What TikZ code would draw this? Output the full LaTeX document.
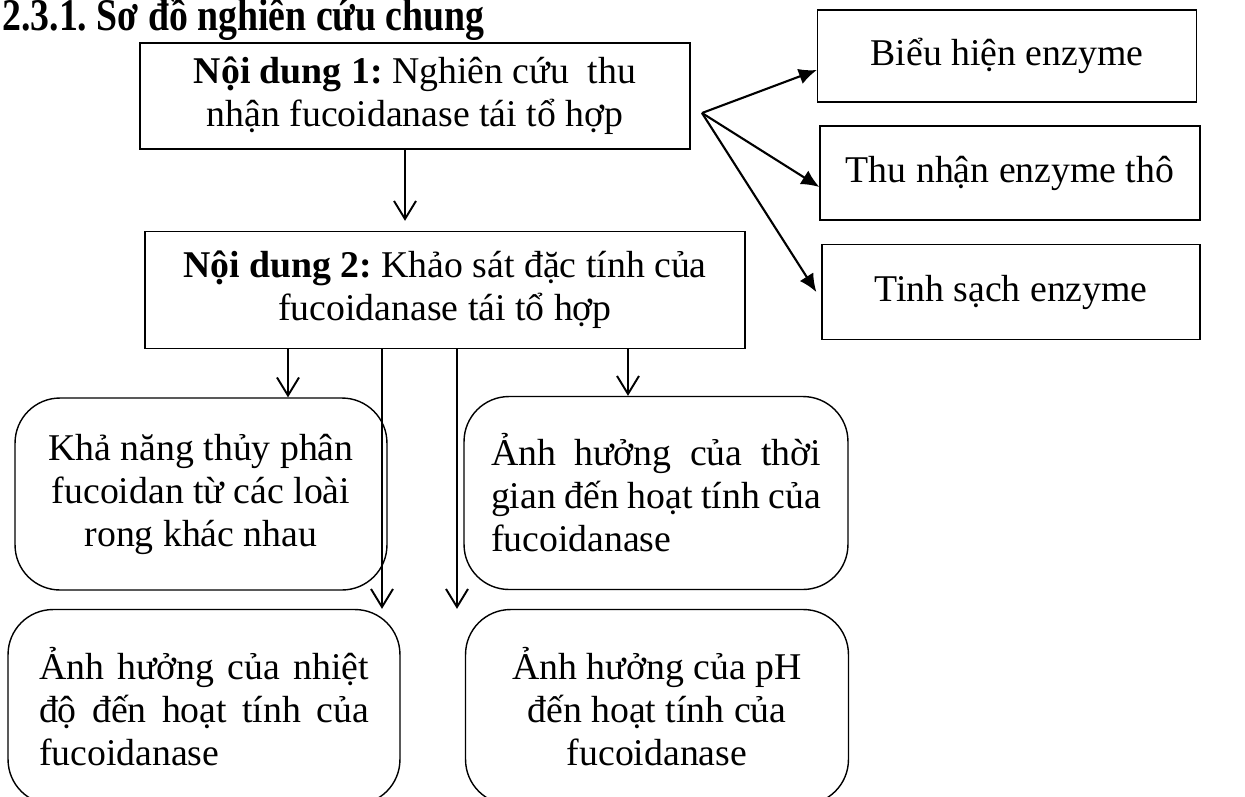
\documentclass[tikz,border=0pt]{standalone}
\usepackage{fontspec}
\setmainfont{Liberation Serif}
\usetikzlibrary{arrows.meta}

% one justified line of a box
\newcommand{\fitline}[1]{\makebox[6.6cm][s]{#1}}

\begin{document}
\frenchspacing
\begin{tikzpicture}[x=0.02cm, y=-0.02cm,
  font=\fontsize{21.5}{24.5}\selectfont,
  sqbox/.style={draw, line width=0.8pt, align=center, inner sep=0pt},
  rbox/.style={draw, line width=0.8pt, rounded corners=0.9cm, align=center, inner sep=0pt},
  downarr/.style={line width=1.1pt, -{Straight Barb[length=0.36cm, width=0.44cm, line width=1.1pt]}},
  fanarr/.style={line width=1.2pt, -{Latex[length=0.36cm, width=0.32cm]}}]

% Page frame (the picture is cut at its edges)
\useasboundingbox (0,0) rectangle (1245,796);
\clip (0,0) rectangle (1245,796);

% Heading
\node[anchor=base west, inner sep=0pt, font=\fontsize{21.5}{24.5}\selectfont\bfseries] (title) at (2,30) {\scalebox{1}[1.2]{2.3.1. Sơ đồ nghiên cứu chung}};

% Main contents
\node[sqbox, minimum width=11cm, minimum height=2.12cm] (nd1) at (415,96) {\textbf{Nội dung 1:} Nghiên cứu\ \ thu\\nhận fucoidanase tái tổ hợp};
\node[sqbox, minimum width=12cm, minimum height=2.34cm] (nd2) at (445,290) {\textbf{Nội dung 2:} Khảo sát đặc tính của\\fucoidanase tái tổ hợp};

% Steps of content 1
\node[sqbox, minimum width=7.58cm, minimum height=1.84cm] (bieuhien) at (1007,56) {Biểu hiện enzyme};
\node[sqbox, minimum width=7.6cm, minimum height=1.88cm] (thunhan) at (1010,173) {Thu nhận enzyme thô};
\node[sqbox, minimum width=7.56cm, minimum height=1.9cm] (tinhsach) at (1011,292) {Tinh sạch enzyme};

% Properties studied in content 2
\node[rbox, minimum width=7.44cm, minimum height=3.84cm] (thuyphan) at (201,494) {Khả năng thủy phân\\fucoidan từ các loài\\rong khác nhau};
\node[rbox, minimum width=7.68cm, minimum height=3.86cm, align=left] (thoigian) at (656,493) {\fitline{Ảnh hưởng của thời}\\\fitline{gian đến hoạt tính của}\\fucoidanase};
\node[rbox, minimum width=7.84cm, minimum height=3.9cm, align=left] (nhietdo) at (204,707) {\fitline{Ảnh hưởng của nhiệt}\\\fitline{độ đến hoạt tính của}\\fucoidanase};
\node[rbox, minimum width=7.66cm, minimum height=3.9cm] (ph) at (657,707) {Ảnh hưởng của pH\\đến hoạt tính của\\fucoidanase};

% Arrow columns
\coordinate (x1) at (405,0);
\coordinate (x2) at (288,0);
\coordinate (x3) at (382,0);
\coordinate (x4) at (457,0);
\coordinate (x5) at (628,0);
\coordinate (fan) at (702,113);

% Arrows
\draw[downarr, shorten >=0.2cm] (nd1.south -| x1) -- (nd2.north -| x1);
\draw[downarr] (nd2.south -| x2) -- (thuyphan.north -| x2);
\draw[downarr] (nd2.south -| x5) -- (thoigian.north -| x5);
\draw[downarr] (nd2.south -| x3) -- (nhietdo.north -| x3);
\draw[downarr] (nd2.south -| x4) -- (ph.north -| x4);

\draw[fanarr] (fan) -- ([yshift=-0.28cm]bieuhien.west);
\draw[fanarr] (fan) -- ([yshift=-0.28cm]thunhan.west);
\draw[fanarr] (fan) -- ([xshift=-0.1cm]tinhsach.west);

\end{tikzpicture}
\end{document}
